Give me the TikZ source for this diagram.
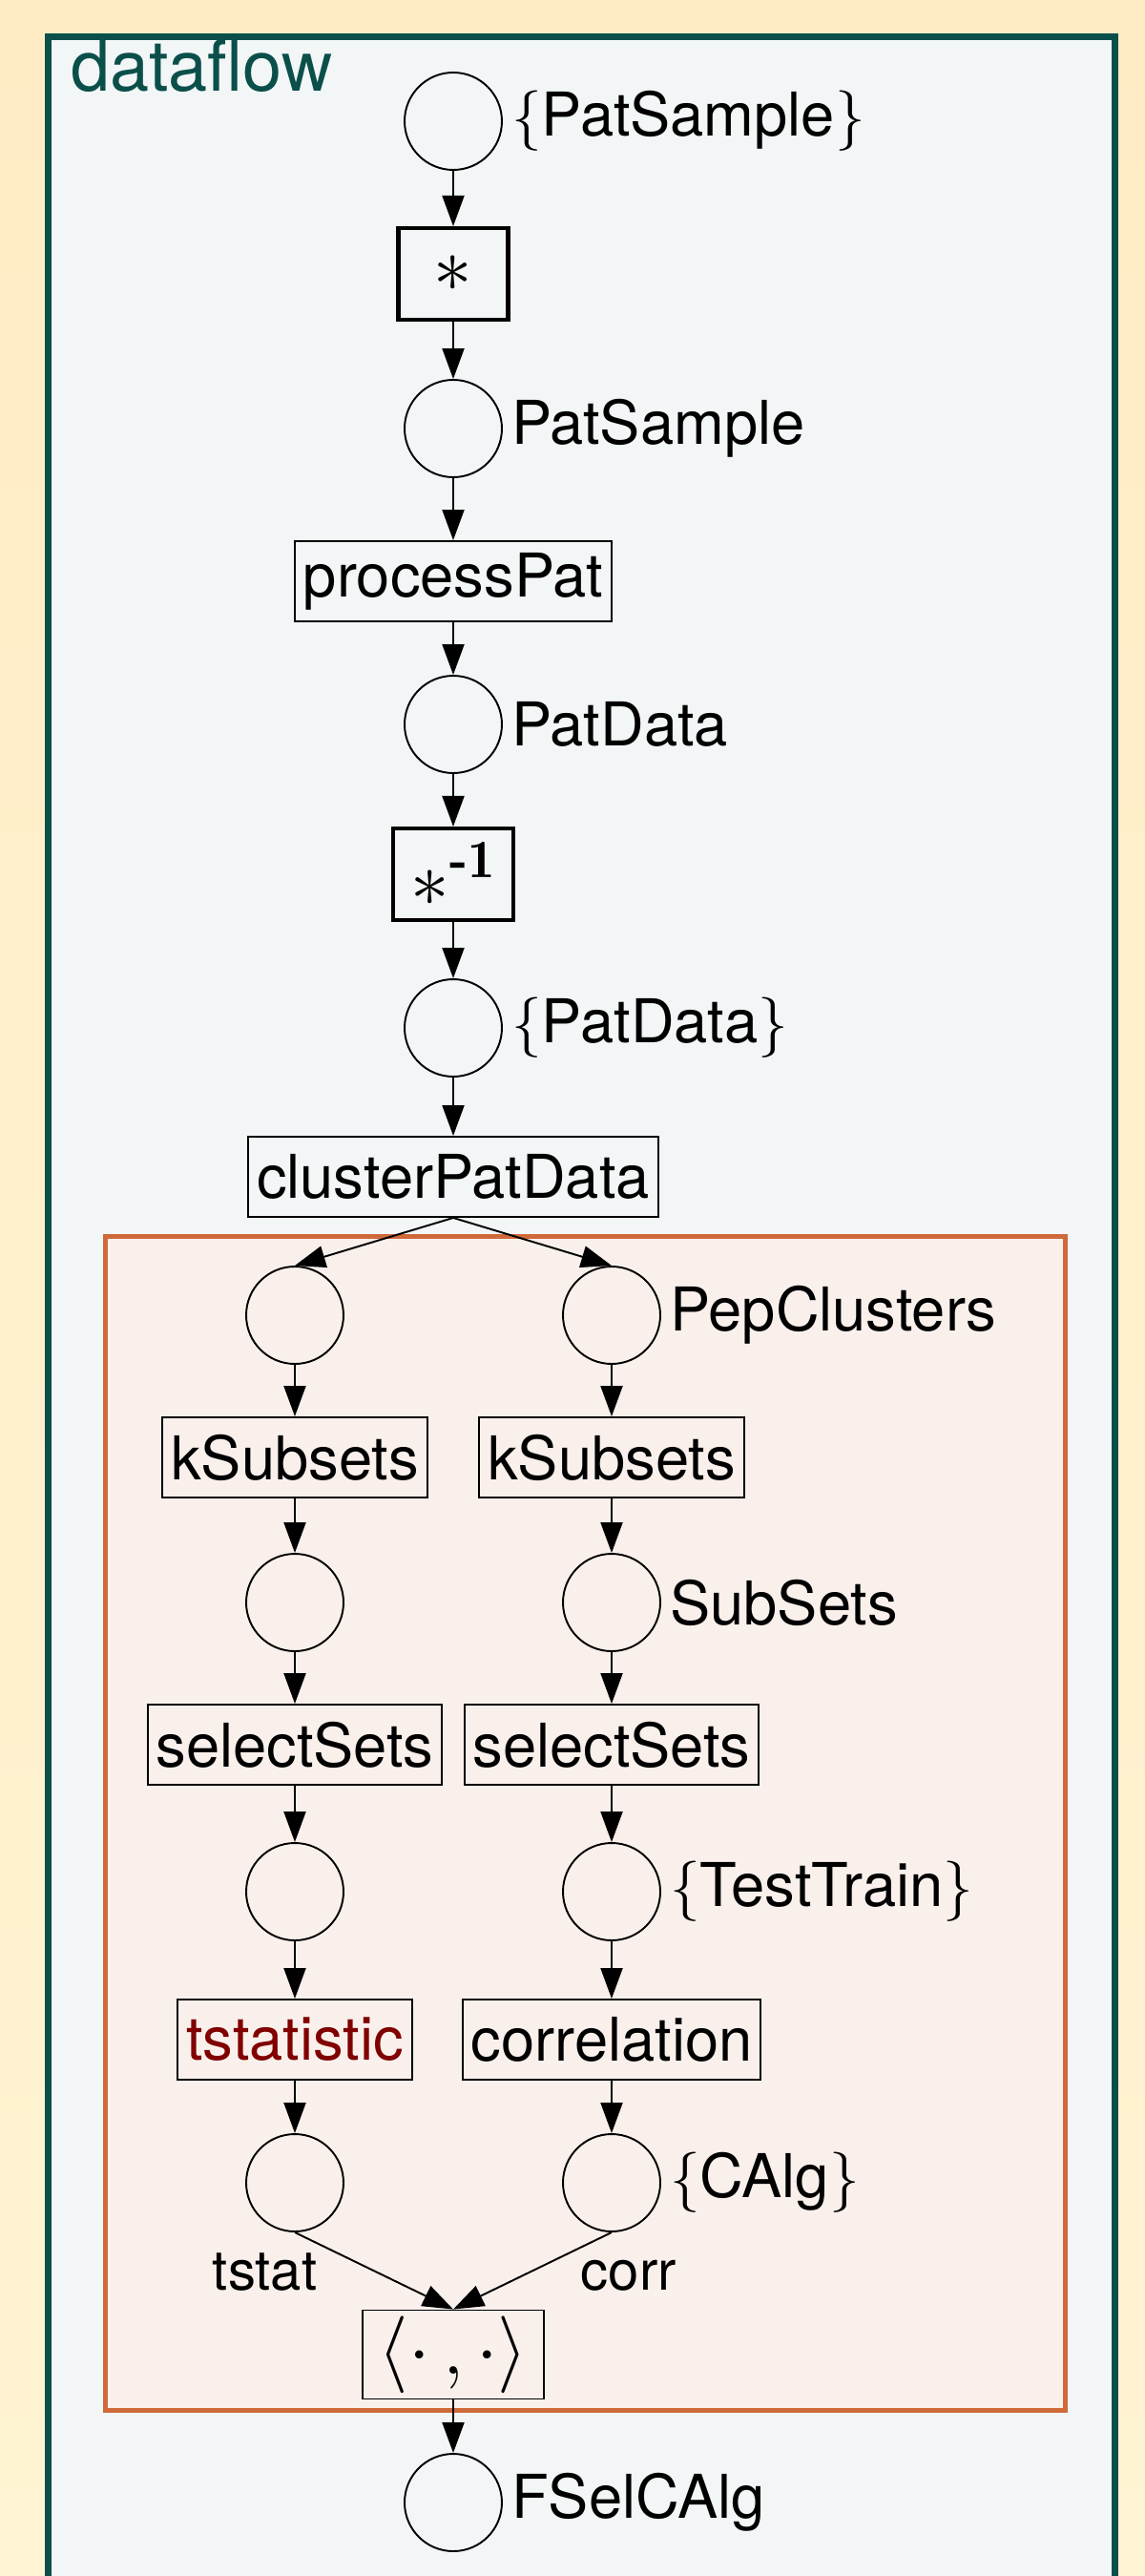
\documentclass[tikz,border=0pt]{standalone}
\usepackage{fix-cm}
\usepackage{amsmath}
\usepackage[no-math]{fontspec}
\setmainfont{TeX Gyre Heros}
\usetikzlibrary{arrows.meta}

\definecolor{papertop}{HTML}{FFECC5}
\definecolor{paperbot}{HTML}{FFF4D3}
\definecolor{flowteal}{HTML}{0B4F4A}
\definecolor{flowbg}{HTML}{F2F6F7}
\definecolor{grpline}{HTML}{D0693A}
\definecolor{grpbg}{HTML}{F9F0EC}
\definecolor{tsred}{HTML}{800000}

\tikzset{
  place/.style={circle, draw, line width=1.1pt, minimum size=2.04cm, inner sep=0pt},
  trans/.style={rectangle, draw, line width=1.1pt, minimum height=1.68cm, inner xsep=0.18cm},
  mapbox/.style={trans, line width=2.3pt, minimum width=2.3cm, minimum height=1.92cm},
  mathbox/.style={font=\fontsize{46}{50}\selectfont},
  flowarc/.style={->, line width=1.1pt},
  elbl/.style={font=\fontsize{33}{38}\selectfont, inner sep=0pt, text height=0.86cm, text depth=0pt}
}

\begin{document}
\begin{tikzpicture}[>={Triangle[length=0.64cm,width=0.46cm]},
    font=\fontsize{36}{40}\selectfont,
    label distance=0.18cm, every label/.style={inner sep=0pt}]

  % page, frame and group
  \useasboundingbox (0cm,0cm) rectangle (24cm,-53.98cm);
  \clip (0cm,0cm) rectangle (24cm,-53.98cm);
  \shade[top color=papertop, bottom color=paperbot] (0cm,0cm) rectangle (24cm,-53.98cm);
  \draw[flowteal, fill=flowbg, line width=0.14cm] (1.01cm,-0.77cm) rectangle (23.36cm,-56cm);
  \draw (1.36cm,-1.92cm) node[anchor=base west, text=flowteal, font=\fontsize{42}{46}\selectfont] (title) {dataflow};
  \draw[grpline, fill=grpbg, line width=0.1cm] (2.21cm,-25.91cm) rectangle (22.32cm,-50.5cm);

  % main column
  \draw (9.5cm,-2.54cm)  node[place, label=right:{$\{$PatSample$\}$}] (pSamples) {};
  \draw (9.5cm,-5.74cm)  node[mapbox, mathbox] (tMap) {$\ast$};
  \draw (9.5cm,-8.98cm)  node[place, label=right:PatSample] (pSample) {};
  \draw (9.5cm,-12.18cm) node[trans] (tProc) {processPat};
  \draw (9.5cm,-15.18cm) node[place, label=right:PatData] (pData) {};
  \draw (9.5cm,-18.32cm) node[mapbox, mathbox, minimum width=2.52cm] (tUnmap) {$\ast^{\text{\fontfamily{lmr}\bfseries -1}}$};
  \draw (9.5cm,-21.54cm) node[place, label=right:{$\{$PatData$\}$}] (pDatas) {};
  \draw (9.5cm,-24.66cm) node[trans] (tCluster) {clusterPatData};

  % left branch
  \draw (6.18cm,-27.56cm) node[place] (lClu) {};
  \draw (6.18cm,-30.54cm) node[trans] (lKsub) {kSubsets};
  \draw (6.18cm,-33.58cm) node[place] (lSub) {};
  \draw (6.18cm,-36.56cm) node[trans] (lSel) {selectSets};
  \draw (6.18cm,-39.64cm) node[place] (lTT) {};
  \draw (6.18cm,-42.74cm) node[trans, text=tsred] (lTst) {tstatistic};
  \draw (6.18cm,-45.74cm) node[place] (lStat) {};

  % right branch
  \draw (12.82cm,-27.56cm) node[place, label=right:PepClusters] (rClu) {};
  \draw (12.82cm,-30.54cm) node[trans] (rKsub) {kSubsets};
  \draw (12.82cm,-33.58cm) node[place, label=right:SubSets] (rSub) {};
  \draw (12.82cm,-36.56cm) node[trans] (rSel) {selectSets};
  \draw (12.82cm,-39.64cm) node[place, label=right:{$\{$TestTrain$\}$}] (rTT) {};
  \draw (12.82cm,-42.74cm) node[trans] (rCor) {correlation};
  \draw (12.82cm,-45.74cm) node[place, label=right:{$\{$CAlg$\}$}] (rCorr) {};

  % pairing
  \draw (9.5cm,-49.34cm) node[trans, mathbox, inner xsep=0cm, minimum width=3.8cm, minimum height=1.86cm] (tPair) {$\langle\cdot\,,\cdot\rangle$};
  \draw (9.5cm,-52.44cm) node[place, label=right:FSelCAlg] (pSel) {};

  \draw[flowarc] (pSamples) edge (tMap);
  \draw[flowarc] (tMap) edge (pSample);
  \draw[flowarc] (pSample) edge (tProc);
  \draw[flowarc] (tProc) edge (pData);
  \draw[flowarc] (pData) edge (tUnmap);
  \draw[flowarc] (tUnmap) edge (pDatas);
  \draw[flowarc] (pDatas) edge (tCluster);
  \draw[flowarc] (tCluster.south) -- (lClu.north);
  \draw[flowarc] (tCluster.south) -- (rClu.north);

  \draw[flowarc] (lClu) edge (lKsub);
  \draw[flowarc] (lKsub) edge (lSub);
  \draw[flowarc] (lSub) edge (lSel);
  \draw[flowarc] (lSel) edge (lTT);
  \draw[flowarc] (lTT) edge (lTst);
  \draw[flowarc] (lTst) edge (lStat);

  \draw[flowarc] (rClu) edge (rKsub);
  \draw[flowarc] (rKsub) edge (rSub);
  \draw[flowarc] (rSub) edge (rSel);
  \draw[flowarc] (rSel) edge (rTT);
  \draw[flowarc] (rTT) edge (rCor);
  \draw[flowarc] (rCor) edge (rCorr);

  \draw[flowarc] (lStat.south) -- node[elbl, pos=0.2, anchor=north east, xshift=-0.18cm] {tstat} (tPair.north);
  \draw[flowarc] (rCorr.south) -- node[elbl, pos=0.2, anchor=north west] {corr} (tPair.north);
  \draw[flowarc] (tPair) edge (pSel);

\end{tikzpicture}
\end{document}
